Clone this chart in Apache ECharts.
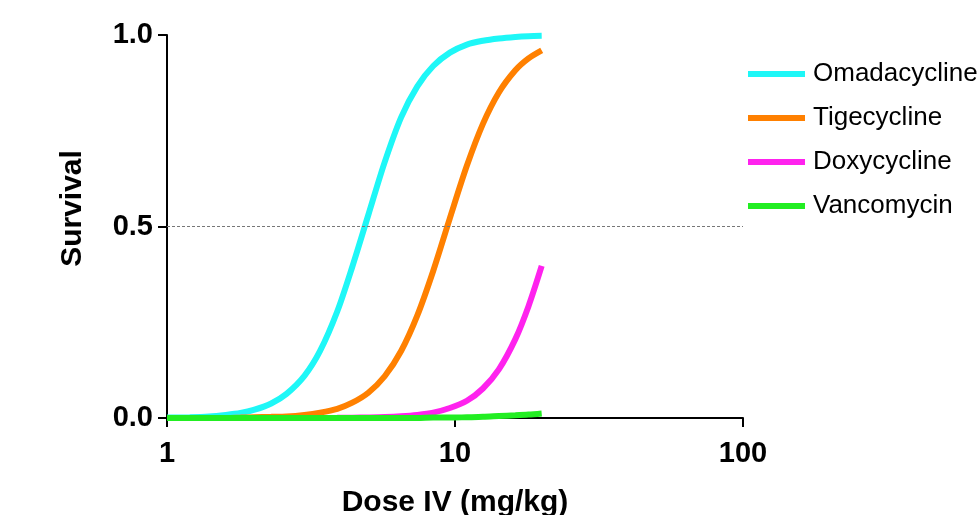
<!DOCTYPE html>
<html>
<head>
<meta charset="utf-8">
<script src="https://cdn.jsdelivr.net/npm/echarts@6/dist/echarts.min.js"></script>
<style>
    html, body { margin: 0; padding: 0; background: #fff; }
    #chart { width: 980px; height: 515px; }
</style>
</head>
<body>
<div id="chart"></div>
<script>
// dose (mg/kg) where each curve was read
const doses = [1, 1.2, 1.4, 1.6, 1.8, 2, 2.3, 2.6, 3, 3.4, 3.9, 4.4, 5, 5.7, 6.5, 7.4, 8.4, 9.6, 11, 12.5, 14.2, 16.2, 18, 20]

// survival fraction
const omadacycline = [0.001, 0.002, 0.004, 0.008, 0.013, 0.021, 0.038, 0.063, 0.110, 0.175, 0.278, 0.395, 0.530, 0.668, 0.785, 0.866, 0.919, 0.954, 0.975, 0.985, 0.991, 0.995, 0.997, 0.998]
const tigecycline  = [0, 0, 0, 0, 0.001, 0.002, 0.003, 0.004, 0.008, 0.014, 0.024, 0.040, 0.066, 0.109, 0.175, 0.268, 0.384, 0.522, 0.659, 0.768, 0.850, 0.908, 0.939, 0.960]
const doxycycline  = [0, 0, 0, 0, 0, 0, 0, 0, 0, 0.0002, 0.0004, 0.0008, 0.0015, 0.0026, 0.0047, 0.0082, 0.014, 0.026, 0.045, 0.077, 0.127, 0.206, 0.292, 0.397]
const vancomycin   = [0, 0, 0, 0, 0, 0, 0, 0, 0, 0, 0, 0, 0, 0, 0, 0, 0.001, 0.001, 0.002, 0.003, 0.005, 0.007, 0.009, 0.012]

const names = ['Omadacycline', 'Tigecycline', 'Doxycycline', 'Vancomycin']
const colors = ['#1ef7f7', '#ff8000', '#ff22ee', '#22ee22']
const xTicks = [1, 10, 100]
const yTicks = [0, 0.5, 1]

function pairs (values) {
    return doses.map(function (d, i) { return [d, values[i]] })
}

const font = 'Liberation Sans'
let chart = echarts.init(document.getElementById('chart'))

let series = [omadacycline, tigecycline, doxycycline, vancomycin].map(function (vals, i) {
    return {
        name: names[i],
        type: 'line',
        data: pairs(vals),
        smooth: 0.3,
        symbol: 'none',
        lineStyle: { width: 6, color: colors[i] },
        itemStyle: { color: colors[i] }
    }
})

// dashed 50% reference line
series[0].markLine = {
    silent: true,
    symbol: 'none',
    label: { show: false },
    lineStyle: { type: [3, 2], color: '#777', width: 1 },
    data: [{ yAxis: 0.5 }]
}

chart.setOption({
    animation: false,
    color: colors,
    grid: {
        left: 167,
        right: 237,
        top: 35,
        bottom: 97,
        containLabel: false,
        outerBoundsMode: 'none'
    },
    legend: {
        orient: 'vertical',
        left: 748,
        top: 61,
        padding: 0,
        icon: 'rect',
        itemWidth: 57,
        itemHeight: 6,
        itemGap: 18,
        textStyle: { fontFamily: font, fontSize: 26, lineHeight: 26, color: '#000', padding: [0, 0, 0, 3] },
        data: names
    },
    xAxis: {
        type: 'log',
        logBase: 10,
        min: 1,
        max: 100,
        name: 'Dose IV (mg/kg)',
        nameLocation: 'middle',
        nameGap: 70,
        nameTextStyle: { fontFamily: font, fontSize: 30, fontWeight: 'bold', color: '#000' },
        axisLine: { lineStyle: { color: '#000', width: 2 } },
        axisTick: { length: 9, lineStyle: { width: 2, color: '#000' } },
        minorTick: { show: false },
        axisLabel: {
            fontFamily: font, fontSize: 29, fontWeight: 'bold', color: '#000', margin: 21,
            formatter: function (v) { return xTicks.indexOf(v) >= 0 ? String(v) : '' }
        },
        splitLine: { show: false }
    },
    yAxis: {
        type: 'value',
        min: 0,
        max: 1,
        interval: 0.5,
        name: 'Survival',
        nameLocation: 'middle',
        nameRotate: 90,
        nameGap: 79,
        nameTextStyle: { fontFamily: font, fontSize: 30, fontWeight: 'bold', color: '#000', padding: [0, 0, 0, 36] },
        axisLine: { show: true, lineStyle: { color: '#000', width: 2 } },
        axisTick: { show: true, length: 9, lineStyle: { width: 2, color: '#000' } },
        axisLabel: {
            fontFamily: font, fontSize: 29, fontWeight: 'bold', color: '#000', margin: 14,
            formatter: function (v) { return yTicks.indexOf(v) >= 0 ? v.toFixed(1) : '' }
        },
        splitLine: { show: false }
    },
    series: series
})
</script>
</body>
</html>
